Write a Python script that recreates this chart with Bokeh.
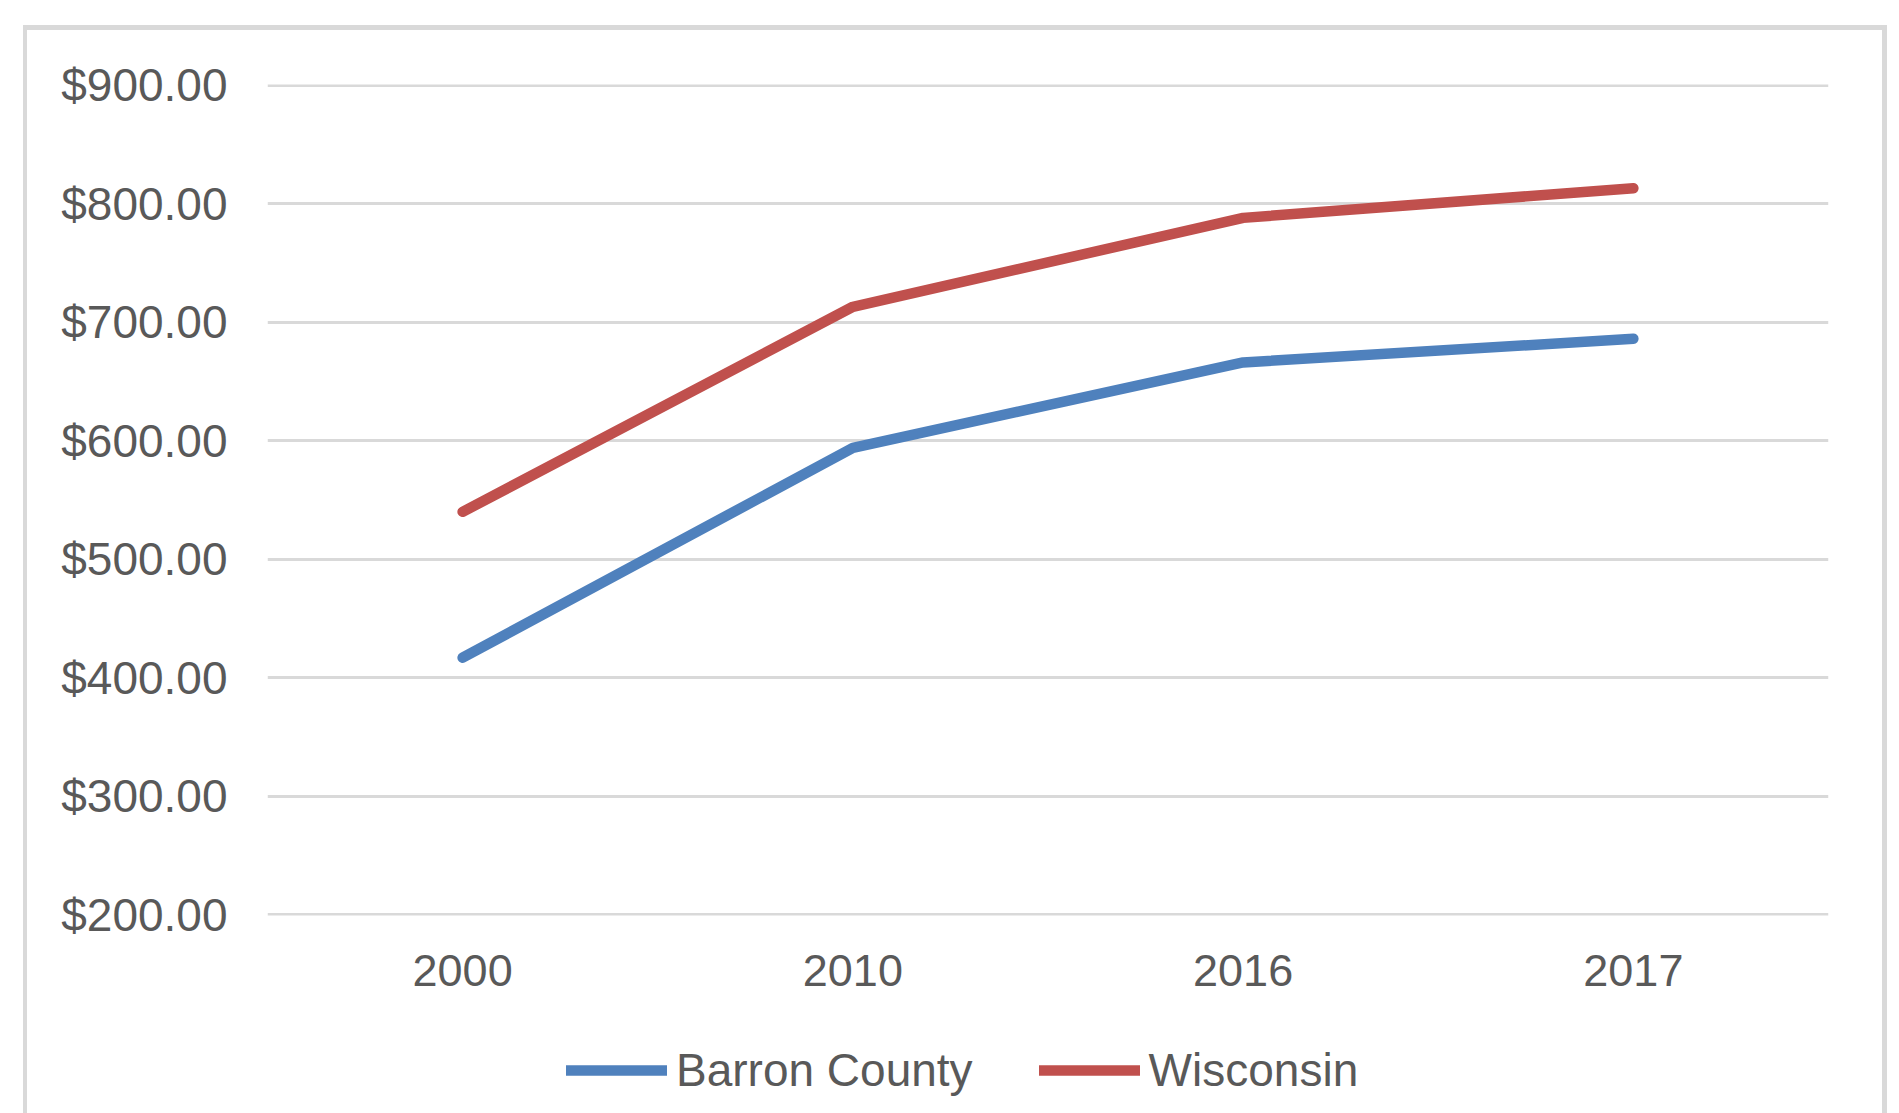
from bokeh.plotting import figure
from bokeh.layouts import column
from bokeh.models import (Range1d, FactorRange, FixedTicker, NumeralTickFormatter,
                          Legend, LegendItem)
from bokeh.embed import file_html
from bokeh.resources import INLINE

years = ["2000", "2010", "2016", "2017"]
barron_county = [417, 594, 666, 686]
wisconsin = [540, 713, 788, 813]
y_ticks = [200, 300, 400, 500, 600, 700, 800, 900]
series_names = ["Barron County", "Wisconsin"]

TEXT = "#595959"
GRID = "#D9D9D9"
FONT = "Liberation Sans"
BLUE = "#4F81BD"
RED = "#C0504D"
LW = 10.5

p = figure(width=1855, height=980, output_backend="svg", toolbar_location=None,
           x_range=FactorRange(*years, range_padding=0), y_range=Range1d(199.5, 900.5),
           min_border_left=240, min_border_right=54, min_border_top=54, min_border_bottom=95)
p.background_fill_color = "white"
p.border_fill_color = "white"
p.outline_line_color = None

p.line(years, barron_county, line_color=BLUE, line_width=LW,
       line_cap="round", line_join="round")
p.line(years, wisconsin, line_color=RED, line_width=LW,
       line_cap="round", line_join="round")

p.yaxis.ticker = FixedTicker(ticks=y_ticks)
p.yaxis.formatter = NumeralTickFormatter(format="$0.00")
p.ygrid.ticker = FixedTicker(ticks=y_ticks)
p.ygrid.grid_line_color = GRID
p.ygrid.grid_line_width = 3
p.xgrid.grid_line_color = None

for ax in (p.xaxis[0], p.yaxis[0]):
    ax.axis_line_color = None
    ax.major_tick_line_color = None
    ax.minor_tick_line_color = None
    ax.major_tick_out = 0
    ax.major_tick_in = 0
    ax.major_label_text_font = FONT
    ax.major_label_text_color = TEXT
p.yaxis.major_label_text_font_size = "46px"
p.xaxis.major_label_text_font_size = "45px"
p.yaxis.major_label_standoff = 40
p.xaxis.major_label_standoff = 39

# legend strip below the chart (its frame lines up with the chart frame)
q = figure(width=1855, height=103, output_backend="svg", toolbar_location=None,
           x_range=Range1d(0, 1), y_range=Range1d(0, 1),
           x_axis_type=None, y_axis_type=None,
           min_border_left=0, min_border_right=0, min_border_top=0, min_border_bottom=0)
q.background_fill_color = "white"
q.border_fill_color = "white"
q.outline_line_color = None
q.xgrid.grid_line_color = None
q.ygrid.grid_line_color = None
# off-range keys so that only the legend swatches show
l1 = q.line(x=[-10, -9], y=[-10, -9], line_color=BLUE, line_width=LW, line_cap="round")
l2 = q.line(x=[-10, -9], y=[-10, -9], line_color=RED, line_width=LW, line_cap="round")

legend = Legend(items=[LegendItem(label=series_names[0], renderers=[l1]),
                       LegendItem(label=series_names[1], renderers=[l2])],
                orientation="horizontal", location=(299, 16),
                padding=0, margin=0, spacing=66, label_standoff=9,
                glyph_width=101, glyph_height=40,
                border_line_color=None, background_fill_alpha=0,
                label_text_font=FONT, label_text_font_size="46px",
                label_text_color=TEXT)
q.add_layout(legend, "center")

layout = column(p, q, spacing=0)
layout.styles = {"margin-left": "23px", "margin-top": "25px",
                 "border-left": "4px solid #D9D9D9", "border-top": "5px solid #D9D9D9",
                 "border-right": "5px solid #D9D9D9"}

open("out.html", "w").write(file_html(layout, INLINE))
